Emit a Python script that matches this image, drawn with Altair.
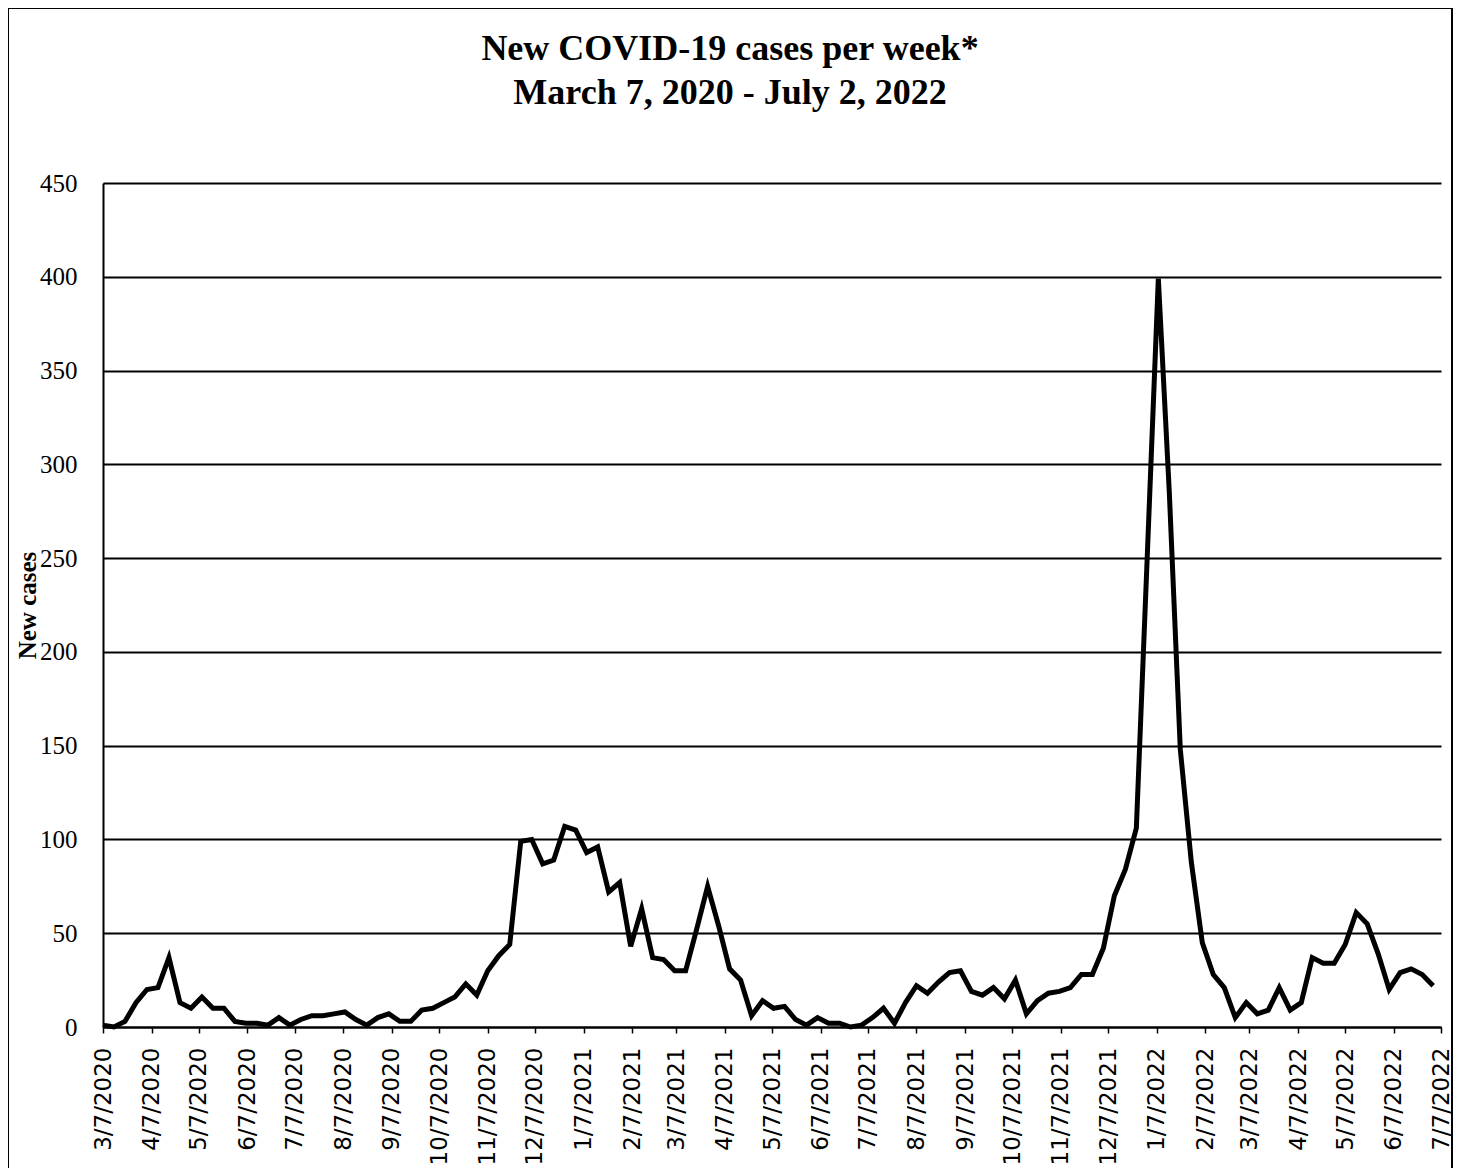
import altair as alt
import pandas as pd

# Weekly new COVID-19 cases, week starting 3/7/2020 through 7/2/2022
new_cases = [
    1, 0, 3, 13, 20, 21, 37, 13, 10, 16,
    10, 10, 3, 2, 2, 1, 5, 1, 4, 6,
    6, 7, 8, 4, 1, 5, 7, 3, 3, 9,
    10, 13, 16, 23, 17, 30, 38, 44, 99, 100,
    87, 89, 107, 105, 93, 96, 72, 77, 43, 63,
    37, 36, 30, 30, 52, 75, 54, 31, 25, 6,
    14, 10, 11, 4, 1, 5, 2, 2, 0, 1,
    5, 10, 2, 13, 22, 18, 24, 29, 30, 19,
    17, 21, 15, 25, 7, 14, 18, 19, 21, 28,
    28, 42, 70, 84, 106, 252, 399, 285, 148, 88,
    45, 28, 21, 5, 13, 7, 9, 21, 9, 13,
    37, 34, 34, 44, 61, 55, 39, 20, 29, 31,
    28, 22,
]
week_dates = pd.date_range("2020-03-07", periods=len(new_cases), freq="7D")
tick_dates = pd.date_range("2020-03-07", "2022-07-07", freq=pd.DateOffset(months=1))
y_ticks = [0, 50, 100, 150, 200, 250, 300, 350, 400, 450]
title_lines = ["New COVID-19 cases per week*", "March 7, 2020 - July 2, 2022"]

df = pd.DataFrame({"week": [d.strftime("%Y-%m-%dT00:00:00") for d in week_dates],
                   "cases": new_cases})


def dt(d):
    return alt.DateTime(year=d.year, month=d.month, date=d.day)


x_axis = alt.Axis(
    values=[dt(d) for d in tick_dates],
    format="%-m/%-d/%Y",
    labelAngle=270,
    labelAlign="right",
    labelBaseline="middle",
    labelFont="DejaVu Sans",
    labelFontSize=23,
    labelColor="black",
    labelPadding=14,
    labelOverlap=False,
    labelFlush=False,
    labelBound=False,
    ticks=True,
    tickSize=6,
    tickColor="black",
    tickWidth=1.5,
    domainColor="black",
    domainWidth=2,
    grid=False,
    title=None,
)

y_axis = alt.Axis(
    values=y_ticks,
    grid=True,
    gridColor="black",
    gridWidth=2,
    domainColor="black",
    domainWidth=2,
    ticks=False,
    tickSize=0,
    labelFont="Liberation Serif",
    labelFontSize=25,
    labelColor="black",
    labelPadding=26,
    labelOverlap=False,
    labelFlush=False,
    title="New cases",
    titleFont="Liberation Serif",
    titleFontSize=25,
    titleFontWeight="bold",
    titleColor="black",
    titleAngle=270,
    titleAlign="center",
    titleBaseline="middle",
    titleX=-76,
    titleY=422,
)

line = alt.Chart(df).mark_line(color="black", strokeWidth=5).encode(
    x=alt.X("week:T", axis=x_axis,
            scale=alt.Scale(domain=[dt(tick_dates[0]), dt(tick_dates[-1])])),
    y=alt.Y("cases:Q", axis=y_axis, scale=alt.Scale(domain=[0, 450], nice=False)),
)

one_row = pd.DataFrame({"a": [0]})

border = alt.Chart(one_row).mark_rect(
    fillOpacity=0, stroke="black", strokeWidth=2
).encode(
    x=alt.value(-95), x2=alt.value(1349), y=alt.value(-175), y2=alt.value(1010)
)

title_l1 = alt.Chart(one_row).mark_text(
    text=title_lines[0], font="Liberation Serif", fontSize=36, fontWeight="bold",
    align="center", baseline="alphabetic", color="black"
).encode(x=alt.value(627), y=alt.value(-123))

title_l2 = alt.Chart(one_row).mark_text(
    text=title_lines[1], font="Liberation Serif", fontSize=36, fontWeight="bold",
    align="center", baseline="alphabetic", color="black"
).encode(x=alt.value(627), y=alt.value(-79))

chart = alt.layer(border, title_l1, title_l2, line).properties(
    width=1338,
    height=844,
    autosize=alt.AutoSizeParams(type="none"),
    padding={"left": 95, "top": 175, "right": 13, "bottom": 160},
    background="white",
).configure_view(strokeWidth=0)

chart.save("out.html", embed_options={"renderer": "svg", "actions": False})
